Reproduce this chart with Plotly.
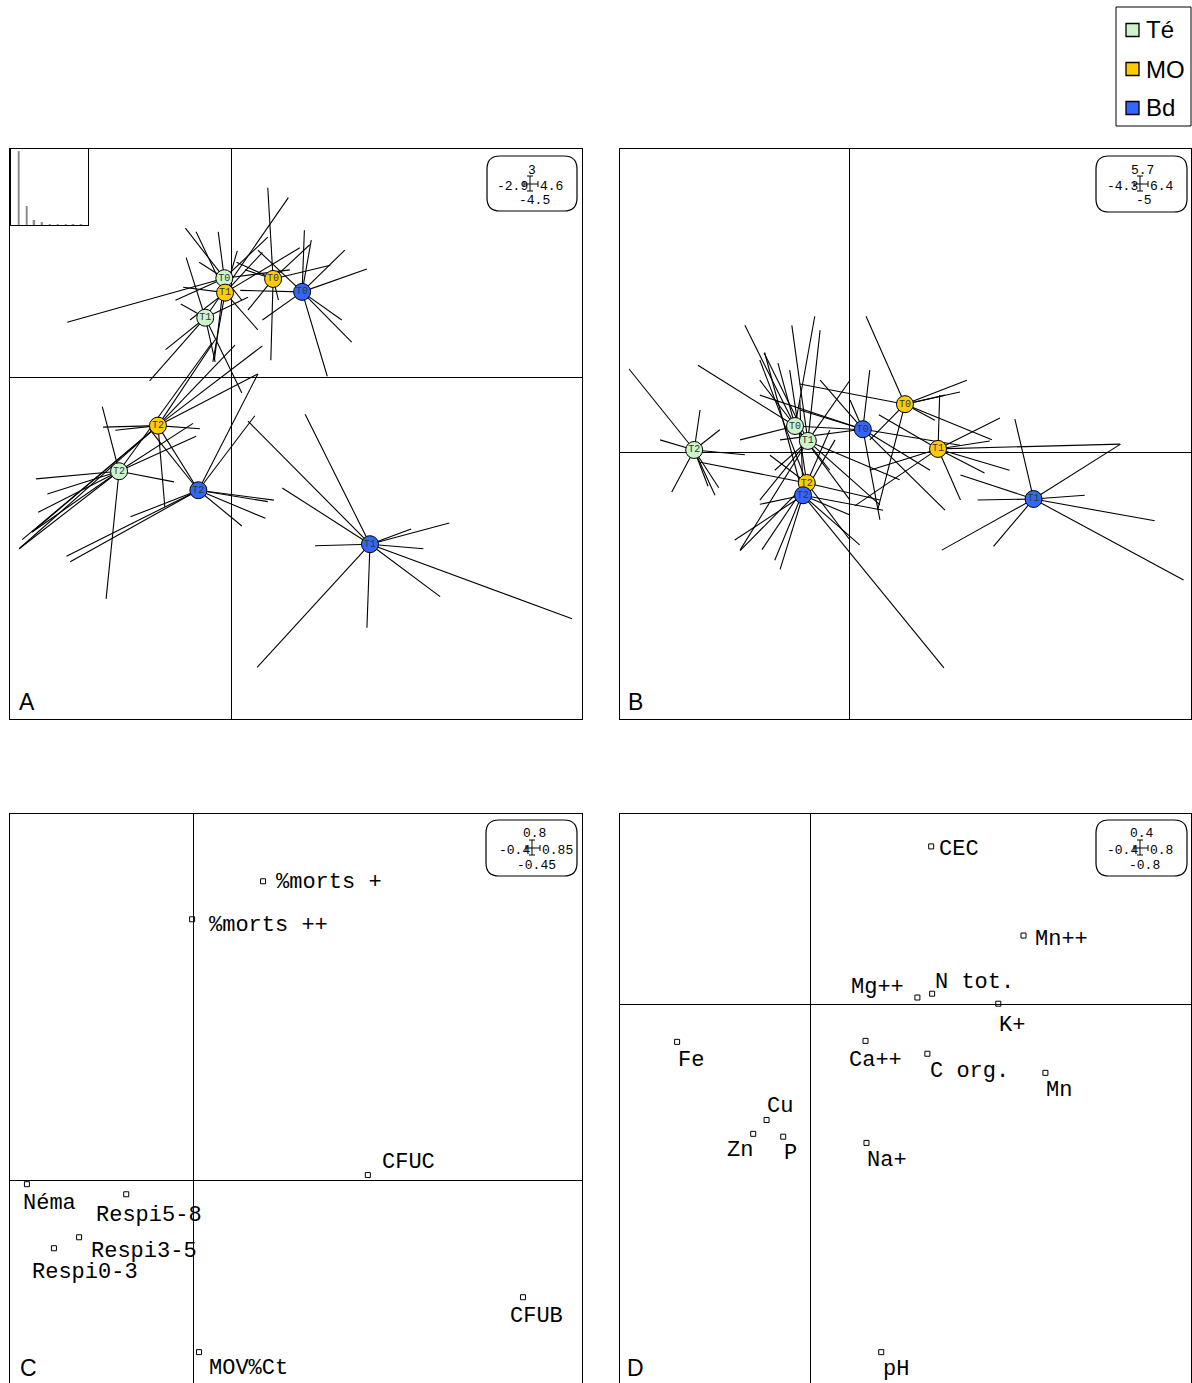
import plotly.graph_objects as go

W, H = 1192, 1383

FACTORS = ["Té", "MO", "Bd"]
FACTOR_COLORS = ["#ccf5cc", "#ffcc00", "#3366ff"]
TIMES = ["T0", "T1", "T2"]

# ---- Panel A: class centres (order Té T0..T2, MO T0..T2, Bd T0..T2) ----
A_CENTER_X = [-0.09, -0.34, -1.47, 0.55, -0.08, -0.96, 0.93, 1.82, -0.43]
A_CENTER_Y = [1.30, 0.78, -1.24, 1.29, 1.11, -0.64, 1.12, -2.20, -1.49]
A_SAMPLES_X = [
    [-2.15, -0.60, -0.17, -0.42, 0.48, 0.77, 0.14, -0.22, -0.73],
    [-1.07, -0.66, -0.59, 0.14, -0.21, 0.75, 0.22, -0.86],
    [-1.69, -2.56, -2.41, -2.53, -2.61, -2.78, -1.64, -0.75, -0.46, -0.50, -0.25],
    [0.48, 0.52, 0.18, 1.03, 1.30, 0.22, 0.62, 0.07],
    [0.90, 0.41, -0.46, -0.63, -0.24, 0.35, 0.08, -0.54],
    [-1.68, -1.52, -0.41, -0.87, -2.78, -2.61, -2.74, -0.43, 0.05, 0.35, 0.41, -0.21],
    [1.78, 1.58, 1.26, 1.45, 0.96, 1.05, 0.35, 0.41, 0.12, 1.49],
    [0.22, 0.97, 0.67, 1.10, 2.36, 2.86, 2.52, 2.74, 4.47, 1.78, 0.34],
    [0.35, 0.31, 0.56, 0.48, 0.45, 0.14, -1.32, -2.16, -2.11, -1.06],
]
A_SAMPLES_Y = [
    [0.72, 1.96, 1.91, 1.51, 1.84, 1.41, 1.01, 0.22, 1.01],
    [-0.05, 0.96, 1.57, -0.21, 0.20, 2.36, 1.05, 0.36],
    [-0.39, -1.34, -1.54, -1.78, -2.04, -2.26, -2.92, -1.38, -0.78, -0.61, 0.45],
    [2.49, 0.22, 1.41, 1.74, 1.47, 0.88, 1.01, 1.51],
    [1.70, 1.64, 1.91, 1.18, 0.20, 0.62, 1.66, 0.75],
    [-0.66, -0.70, -0.68, -1.71, -2.26, -2.04, -2.14, -1.49, 0.42, 0.04, 0.41, 0.49],
    [1.42, 0.46, 0.01, 0.75, 1.93, 1.80, 1.67, 0.75, 1.14, 1.67],
    [-0.58, -0.49, -1.46, -2.22, -2.00, -1.92, -2.26, -2.89, -3.18, -3.30, -3.82],
    [0.04, -0.51, -1.62, -1.64, -1.86, -1.96, -1.84, -2.36, -2.43, -0.70],
]
A_EIGENVALUES = [7.4, 1.9, 0.5, 0.3, 0.1, 0.08, 0.06, 0.05, 0.03]

# ---- Panel B ----
B_CENTER_X = [-1.02, -0.78, -2.91, 1.04, 1.66, -0.80, 0.25, 3.45, -0.87]
B_CENTER_Y = [0.50, 0.22, 0.05, 0.91, 0.07, -0.57, 0.44, -0.87, -0.80]
B_SAMPLES_X = [
    [-2.84, -1.96, -0.65, -1.68, 0.38, -2.05, 0.01, -1.34, -0.37],
    [-1.60, -1.08, -0.55, -1.68, -2.05, 0.57, 0.01, -1.40, 0.94],
    [-4.13, -3.33, -2.65, -2.52, -2.45, -1.96, -3.55, -2.80, -2.43],
    [0.31, 2.20, 2.07, -0.93, 0.53, 2.67, 1.60, 0.38, 1.79],
    [5.07, 2.63, 2.82, 2.53, 2.08, 0.10, 0.38, 0.55, 3.00, 1.69],
    [-2.05, -1.64, -2.80, -1.40, 0.57, 0.01, -1.12, -1.68, -0.37, -1.49],
    [-1.68, -0.93, -1.30, 0.57, 0.38, -0.55, 1.51, 1.79, 2.07, 0.01],
    [5.72, 5.08, 3.10, 2.70, 1.73, 2.40, 6.26, 4.41, 2.08],
    [1.77, -2.15, -1.68, 0.63, 0.01, -0.27, -1.59, -0.93, -1.30, 0.19],
]
B_SAMPLES_Y = [
    [1.64, 2.39, 2.56, 1.36, 0.42, 0.24, -0.89, 1.68, -0.33],
    [1.87, 2.39, 2.30, -0.89, -1.83, -0.98, 1.36, -0.33, -0.51],
    [1.57, -0.74, -0.63, -0.80, -0.66, -0.04, 0.24, 0.80, 0.43],
    [2.56, 1.36, 1.14, 1.29, -1.07, 0.24, 0.61, 0.24, 1.08],
    [0.16, 0.22, 0.65, -0.38, -0.89, -1.00, -0.33, 0.71, -0.33, 1.08],
    [-1.84, -1.82, -0.18, -2.02, -0.89, -1.64, 1.55, 1.74, 0.42, -0.05],
    [1.08, 0.80, 0.24, -1.26, 1.55, 1.36, -0.33, -1.08, 0.14, 0.99],
    [-1.28, 0.16, 0.63, -1.76, -1.83, -0.89, -2.39, -0.80, -0.42],
    [-4.04, -1.64, -0.97, -1.08, -1.17, 0.24, 1.88, 0.99, -2.19, -1.73],
]

# ---- Panel C: biological variables ----
C_LABELS = ["%morts +", "%morts ++", "CFUC", "Néma", "Respi5-8",
            "Respi3-5", "Respi0-3", "CFUB", "MOV%Ct"]
C_X = [0.153, -0.002, 0.382, -0.363, -0.146, -0.249, -0.304, 0.721, 0.013]
C_Y = [0.653, 0.570, 0.011, -0.009, -0.031, -0.125, -0.149, -0.256, -0.376]
C_LABEL_DX = [66, 76, 41, 23, 23, 65, 31, 14, 50]
C_LABEL_DY = [1, 6, -13, 19, 21, 14, 24, 19, 16]

# ---- Panel D: soil chemistry variables ----
D_LABELS = ["CEC", "Mn++", "Mg++", "N tot.", "K+", "Fe", "Ca++", "C org.",
            "Mn", "Cu", "Zn", "P", "Na+", "pH"]
D_X = [0.254, 0.448, 0.225, 0.256, 0.395, -0.280, 0.116, 0.246, 0.494,
       -0.092, -0.120, -0.057, 0.118, 0.149]
D_Y = [0.332, 0.145, 0.015, 0.023, 0.002, -0.078, -0.076, -0.103, -0.143,
       -0.242, -0.271, -0.277, -0.290, -0.729]
D_LABEL_DX = [28, 38, -40, 42, 14, 14, 10, 42, 14, 13, -13, 7, 21, 15]
D_LABEL_DY = [3, 4, -10, -11, 22, 19, 20, 18, 18, -14, 17, 17, 18, 17]

MONO = "Liberation Mono, Courier New, monospace"
SANS = "Liberation Sans, Arial, sans-serif"


def fx(px):
    return px / W


def fy(py):
    return 1 - py / H


fig = go.Figure()
layout_axes = {}


def setup_panel(suffix, box, xr, yr, full_frame=True):
    left, top, right, bottom = box
    y_low = yr[0]
    vis_bottom = bottom
    if bottom > H:
        vis_bottom = H
        y_low = yr[1] - (yr[1] - yr[0]) * (H - top) / (bottom - top)
    common = dict(showgrid=False, showticklabels=False, ticks="",
                  zeroline=True, zerolinecolor="black", zerolinewidth=1.2,
                  linecolor="black", linewidth=1.2, fixedrange=True)
    xa = dict(common, domain=[fx(left), fx(right)], range=list(xr),
              anchor="y" + suffix)
    ya = dict(common, domain=[max(0.0, fy(vis_bottom)), fy(top)],
              range=[y_low, yr[1]], anchor="x" + suffix,
              showline=True, mirror=True)
    if full_frame:
        xa.update(showline=True, mirror=True)
    else:
        xa.update(showline=True, mirror=False, side="top")
    layout_axes["xaxis" + suffix] = xa
    layout_axes["yaxis" + suffix] = ya


setup_panel("", (10, 149, 582, 719), (-2.9, 4.6), (-4.5, 3))
setup_panel("2", (620, 149, 1191, 719), (-4.3, 6.4), (-5, 5.7))
setup_panel("3", (10, 814, 582, 1386), (-0.4, 0.85), (-0.45, 0.8), full_frame=False)
setup_panel("4", (620, 814, 1191, 1386), (-0.4, 0.8), (-0.8, 0.4), full_frame=False)


def add_stars(cx, cy, sx, sy, xa, ya):
    lx, ly = [], []
    for g in range(len(cx)):
        for x, y in zip(sx[g], sy[g]):
            lx += [cx[g], x, None]
            ly += [cy[g], y, None]
    fig.add_trace(go.Scatter(x=lx, y=ly, mode="lines", xaxis=xa, yaxis=ya,
                             line=dict(color="black", width=1.1),
                             hoverinfo="skip", showlegend=False))
    for f, name in enumerate(FACTORS):
        idx = [3 * f + t for t in range(3)]
        fig.add_trace(go.Scatter(
            x=[cx[i] for i in idx], y=[cy[i] for i in idx], text=TIMES,
            mode="markers+text", textposition="middle center",
            textfont=dict(family=MONO, size=10, color="#333"),
            marker=dict(size=17, color=FACTOR_COLORS[f],
                        line=dict(color="black", width=1)),
            xaxis=xa, yaxis=ya, name=name, showlegend=False))


add_stars(A_CENTER_X, A_CENTER_Y, A_SAMPLES_X, A_SAMPLES_Y, "x", "y")
add_stars(B_CENTER_X, B_CENTER_Y, B_SAMPLES_X, B_SAMPLES_Y, "x2", "y2")

# eigenvalue inset in panel A
layout_axes["xaxis5"] = dict(domain=[fx(10.7), fx(88)], range=[-0.02, 9.86],
                             anchor="y5", showgrid=False, zeroline=False,
                             showticklabels=False, ticks="", showline=True,
                             mirror=True, linecolor="black", linewidth=1.2)
layout_axes["yaxis5"] = dict(domain=[fy(225), fy(149)],
                             range=[0, A_EIGENVALUES[0] * 76 / 74],
                             anchor="x5", showgrid=False, zeroline=False,
                             showticklabels=False, ticks="", showline=True,
                             mirror=True, linecolor="black", linewidth=1.2)
fig.add_trace(go.Bar(x=list(range(1, len(A_EIGENVALUES) + 1)), y=A_EIGENVALUES,
                     width=0.2, marker=dict(color="#8c8c8c", line=dict(width=0)),
                     xaxis="x5", yaxis="y5", showlegend=False))

annotations = []
shapes = []


def add_labels(xs, ys, labels, dxs, dys, xa, ya):
    fig.add_trace(go.Scatter(x=xs, y=ys, mode="markers", xaxis=xa, yaxis=ya,
                             marker=dict(symbol="square-open", size=5,
                                         color="black", line=dict(width=1)),
                             showlegend=False, hoverinfo="text", text=labels))
    for x, y, t, dx, dy in zip(xs, ys, labels, dxs, dys):
        annotations.append(dict(x=x, y=y, xref=xa, yref=ya, text=t,
                                showarrow=False, xanchor="center",
                                yanchor="middle", xshift=dx, yshift=-dy,
                                font=dict(family=MONO, size=22, color="black")))


add_labels(C_X, C_Y, C_LABELS, C_LABEL_DX, C_LABEL_DY, "x3", "y3")
add_labels(D_X, D_Y, D_LABELS, D_LABEL_DX, D_LABEL_DY, "x4", "y4")


def rounded_box(x0, y0, x1, y1, r):
    pts = [
        ("M", (x0 + r, y0)), ("L", (x1 - r, y0)),
        ("Q", (x1, y0), (x1, y0 + r)), ("L", (x1, y1 - r)),
        ("Q", (x1, y1), (x1 - r, y1)), ("L", (x0 + r, y1)),
        ("Q", (x0, y1), (x0, y1 - r)), ("L", (x0, y0 + r)),
        ("Q", (x0, y0), (x0 + r, y0)),
    ]
    parts = []
    for p in pts:
        cmd = p[0]
        coords = " ".join(f"{fx(a):.5f},{fy(b):.5f}" for a, b in p[1:])
        parts.append(f"{cmd} {coords}")
    return " ".join(parts) + " Z"


def paper_line(x0, y0, x1, y1, w=1):
    shapes.append(dict(type="line", xref="paper", yref="paper",
                       x0=fx(x0), y0=fy(y0), x1=fx(x1), y1=fy(y1),
                       line=dict(color="black", width=w)))


def paper_text(x, y, t, anchor="center", size=13, family=MONO):
    annotations.append(dict(x=fx(x), y=fy(y), xref="paper", yref="paper",
                            text=t, showarrow=False, xanchor=anchor,
                            yanchor="middle", borderpad=0,
                            font=dict(family=family, size=size, color="black")))


def scale_box(box, cross, top, left, right, bottom):
    x0, y0, x1, y1 = box
    shapes.append(dict(type="path", xref="paper", yref="paper",
                       path=rounded_box(x0, y0, x1, y1, 13),
                       line=dict(color="black", width=1.2)))
    cx, cy = cross
    paper_line(cx, cy - 8, cx, cy + 7)
    paper_line(cx - 3, cy - 8, cx + 3, cy - 8)
    paper_line(cx - 3, cy + 7, cx + 3, cy + 7)
    paper_line(cx - 6, cy, cx + 8, cy)
    paper_line(cx - 6, cy - 3, cx - 6, cy + 3)
    paper_line(cx + 8, cy - 3, cx + 8, cy + 3)
    paper_text(cx + 2, cy - 14, top)
    paper_text(cx - 1, cy + 2, left, anchor="right")
    paper_text(cx + 9, cy + 2, right, anchor="left")
    paper_text(cx + 4, cy + 17, bottom)


scale_box((487, 156, 577, 211), (530, 184), "3", "-2.9", "4.6", "-4.5")
scale_box((1096, 156, 1187, 212), (1140, 184), "5.7", "-4.3", "6.4", "-5")
scale_box((486, 820, 577, 876), (532, 848), "0.8", "-0.4", "0.85", "-0.45")
scale_box((1096, 820, 1187, 876), (1140, 848), "0.4", "-0.4", "0.8", "-0.8")

# panel letters
for letter, (x, y) in zip("ABCD", [(27, 702), (635, 702), (28, 1368), (635, 1368)]):
    paper_text(x, y, letter, size=23, family=SANS)

# legend
shapes.append(dict(type="rect", xref="paper", yref="paper",
                   x0=fx(1116), y0=fy(126), x1=fx(1191), y1=fy(7),
                   line=dict(color="black", width=1), fillcolor="white"))
for name, color, yc in zip(FACTORS, FACTOR_COLORS, [30, 69, 108]):
    shapes.append(dict(type="rect", xref="paper", yref="paper",
                       x0=fx(1126), y0=fy(yc + 6.5), x1=fx(1139), y1=fy(yc - 6.5),
                       line=dict(color="black", width=1.3), fillcolor=color))
    paper_text(1145, yc, name, anchor="left", size=24, family=SANS)

fig.update_layout(
    width=W, height=H,
    margin=dict(l=0, r=0, t=0, b=0),
    paper_bgcolor="white", plot_bgcolor="rgba(0,0,0,0)",
    showlegend=False,
    shapes=shapes, annotations=annotations,
    **layout_axes,
)

fig.write_html("out.html")
